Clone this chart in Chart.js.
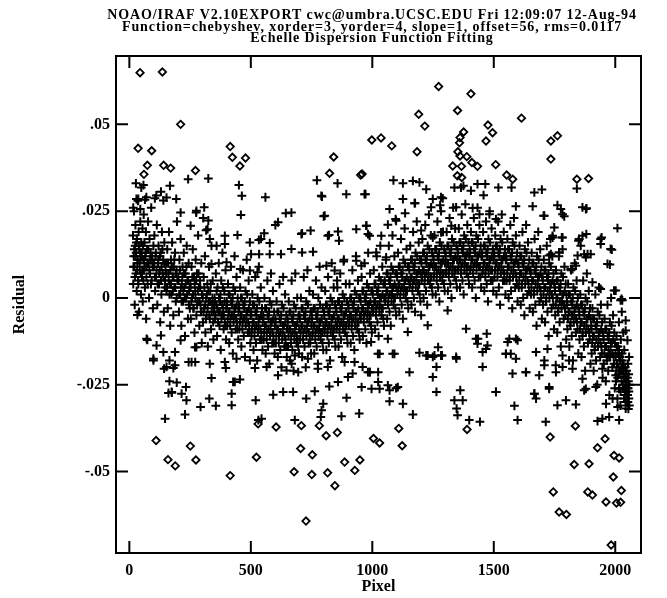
<!DOCTYPE html>
<html>
<head>
<meta charset="utf-8">
<title>Echelle Dispersion Function Fitting</title>
<script src="https://cdn.jsdelivr.net/npm/chart.js@4.4.1/dist/chart.umd.min.js"></script>
<style>
  html, body { margin: 0; padding: 0; background: #fff; }
  canvas { display: block; }
</style>
</head>
<body>
<canvas id="fitChart" width="667" height="598"></canvas>
<script>
let headerLines = [
    'NOAO/IRAF V2.10EXPORT cwc@umbra.UCSC.EDU Fri 12:09:07 12-Aug-94',
    'Function=chebyshev, xorder=3, yorder=4, slope=1, offset=56, rms=0.0117',
    'Echelle Dispersion Function Fitting'
]

let pixelTicks = [0, 500, 1000, 1500, 2000]
let residualTicks = [-0.05, -0.025, 0, 0.025, 0.05]
let residualLabels = ['-.05', '-.025', '0', '.025', '.05']

// fitted lines ('+'), main band
let bandPoints = [
    [15,0.018],[16,0.004],[18,0.012],[19,0.025],[21,0.009],[22,-0.002],[24,0.015],[25,0.021],[27,0.007],[28,0.013],[30,0.002],[31,0.017],[33,0.010],[35,0.028],[36,0.005],[38,0.019],[40,-0.004],[41,0.014],[43,0.008],[45,0.022],[46,0.011],[48,0.001],[49,0.016],
    [51,0.013],[52,0.006],[54,0.020],[55,-0.001],[57,0.011],[59,0.024],[60,0.008],[62,0.016],[64,0.003],[66,0.012],[68,0.019],[69,-0.006],[71,0.009],[73,0.014],[75,0.004],[77,0.022],[79,0.010],[81,0.000],[83,0.017],[85,0.007],[87,0.013],[90,0.026],[92,0.005],[94,0.011],[97,-0.003],[99,0.015],
    [101,0.009],[103,0.018],[106,0.002],[108,0.012],[110,0.006],[113,0.021],[115,-0.002],[118,0.010],[120,0.015],[122,0.004],[125,0.008],[127,-0.007],[129,0.013],[132,0.001],[134,0.019],[137,0.007],[139,0.011],[142,-0.004],[144,0.016],[147,0.005],
    [151,0.010],[153,0.002],[156,0.014],[158,-0.003],[161,0.007],[163,0.019],[166,0.004],[168,-0.008],[171,0.011],[173,0.001],[176,0.016],[178,0.006],[181,-0.005],[183,0.009],[186,0.003],[188,0.013],[191,-0.001],[194,0.008],[196,0.022],[198,0.005],
    [201,0.006],[204,-0.004],[206,0.011],[209,0.001],[211,0.017],[214,-0.008],[216,0.004],[219,0.009],[221,-0.001],[224,0.013],[226,0.003],[229,-0.011],[231,0.007],[234,0.000],[236,0.015],[239,0.005],[241,-0.006],[244,0.010],[246,0.002],[249,-0.003],
    [251,0.004],[253,-0.006],[256,0.009],[258,0.000],[261,0.014],[263,-0.003],[266,0.006],[268,-0.010],[271,0.002],[273,0.011],[276,-0.005],[278,0.007],[281,-0.001],[283,0.018],[286,0.003],[288,-0.008],[291,0.005],[293,-0.002],[296,0.010],[298,-0.013],
    [301,0.001],[303,-0.007],[306,0.006],[308,-0.003],[311,0.012],[313,-0.010],[316,0.000],[318,-0.005],[321,0.004],[323,-0.014],[326,-0.001],[328,0.009],[331,-0.006],[333,0.002],[336,-0.009],[338,0.015],[341,-0.002],[343,0.005],[346,-0.012],[348,-0.004],
    [351,0.000],[353,-0.006],[356,0.007],[358,-0.002],[361,-0.011],[363,0.003],[366,-0.004],[368,0.010],[371,-0.008],[373,-0.001],[376,-0.015],[378,0.005],[381,-0.005],[383,0.013],[386,-0.003],[388,-0.009],[391,0.002],[393,-0.007],[396,0.008],[398,-0.012],
    [401,-0.001],[403,-0.008],[406,0.004],[408,-0.004],[411,-0.013],[413,0.001],[416,-0.006],[418,0.009],[421,-0.010],[423,-0.002],[426,-0.016],[428,0.003],[431,-0.005],[433,0.012],[436,-0.003],[438,-0.009],[441,0.006],[443,-0.007],[446,0.000],[448,-0.012],
    [451,-0.002],[453,-0.009],[456,0.003],[458,-0.005],[461,-0.014],[463,0.000],[466,-0.007],[468,0.008],[471,-0.011],[473,-0.003],[476,-0.017],[478,0.002],[481,-0.006],[483,0.011],[486,-0.004],[488,-0.010],[491,0.005],[493,-0.008],[496,-0.001],[498,-0.013],
    [501,-0.004],[503,-0.011],[506,0.001],[508,-0.007],[511,-0.015],[513,-0.002],[516,-0.009],[518,0.006],[521,-0.013],[523,-0.005],[526,-0.018],[528,0.000],[531,-0.008],[533,0.009],[536,-0.006],[538,-0.012],[541,0.003],[543,-0.010],[546,-0.003],[548,-0.015],
    [551,-0.005],[553,-0.012],[556,0.000],[558,-0.008],[561,-0.016],[563,-0.003],[566,-0.010],[568,0.005],[571,-0.014],[573,-0.006],[576,-0.019],[578,-0.001],[581,-0.009],[583,0.007],[586,-0.007],[588,-0.013],[591,0.002],[593,-0.011],[596,-0.004],[598,-0.016],
    [601,-0.006],[603,-0.013],[606,-0.001],[608,-0.009],[611,-0.017],[613,-0.004],[616,-0.011],[618,0.004],[621,-0.015],[623,-0.007],[626,-0.020],[628,-0.002],[631,-0.010],[633,0.006],[636,-0.008],[638,-0.014],[641,0.001],[643,-0.012],[646,-0.005],[648,-0.017],
    [651,-0.006],[653,-0.014],[656,-0.001],[658,-0.009],[661,-0.018],[663,-0.004],[666,-0.011],[668,0.005],[671,-0.015],[673,-0.007],[676,-0.021],[678,-0.002],[681,-0.010],[683,0.007],[686,-0.008],[688,-0.013],[691,0.000],[693,-0.012],[696,-0.005],[698,-0.016],
    [701,-0.005],[703,-0.012],[706,0.000],[708,-0.008],[711,-0.017],[713,-0.003],[716,-0.010],[718,0.006],[721,-0.014],[723,-0.006],[726,-0.020],[728,-0.001],[731,-0.009],[733,0.008],[736,-0.007],[738,-0.013],[741,0.002],[743,-0.011],[746,-0.004],[748,-0.016],
    [751,-0.004],[753,-0.011],[756,0.001],[758,-0.008],[761,-0.016],[763,-0.003],[766,-0.010],[768,0.005],[771,-0.014],[773,-0.006],[776,-0.019],[778,0.000],[781,-0.009],[783,0.009],[786,-0.007],[788,-0.012],[791,0.003],[793,-0.010],[796,-0.003],[798,-0.015],
    [801,-0.004],[803,-0.010],[806,0.002],[808,-0.007],[811,-0.015],[813,-0.002],[816,-0.009],[818,0.006],[821,-0.013],[823,-0.005],[826,-0.018],[828,0.000],[831,-0.008],[833,0.010],[836,-0.006],[838,-0.011],[841,0.003],[843,-0.009],[846,-0.002],[848,-0.014],
    [851,-0.003],[853,-0.009],[856,0.003],[858,-0.006],[861,-0.014],[863,-0.001],[866,-0.008],[868,0.007],[871,-0.012],[873,-0.004],[876,-0.017],[878,0.001],[881,-0.007],[883,0.011],[886,-0.005],[888,-0.010],[891,0.004],[893,-0.008],[896,-0.001],[898,-0.013],
    [901,-0.002],[903,-0.008],[906,0.004],[908,-0.005],[911,-0.013],[913,0.000],[916,-0.007],[918,0.008],[921,-0.011],[923,-0.003],[926,-0.015],[928,0.002],[931,-0.006],[933,0.012],[936,-0.004],[938,-0.009],[941,0.005],[943,-0.007],[946,0.000],[948,-0.012],
    [951,0.000],[953,-0.006],[956,0.006],[958,-0.003],[961,-0.011],[963,0.002],[966,-0.005],[968,0.010],[971,-0.009],[973,-0.001],[976,-0.013],[978,0.004],[981,-0.004],[983,0.013],[986,-0.002],[988,-0.007],[991,0.007],[993,-0.005],[996,0.002],[998,-0.010],
    [1001,0.002],[1003,-0.004],[1006,0.008],[1008,-0.001],[1011,-0.009],[1013,0.004],[1016,-0.003],[1018,0.012],[1021,-0.007],[1023,0.001],[1026,-0.011],[1028,0.006],[1031,-0.002],[1033,0.015],[1036,0.000],[1038,-0.005],[1041,0.009],[1043,-0.003],[1046,0.004],[1048,-0.008],
    [1051,0.005],[1053,-0.001],[1056,0.011],[1058,0.002],[1061,-0.006],[1063,0.007],[1066,0.000],[1068,0.015],[1071,-0.004],[1073,0.004],[1076,-0.008],[1078,0.009],[1081,0.001],[1083,0.018],[1086,0.003],[1088,-0.002],[1091,0.012],[1093,0.000],[1096,0.007],[1098,-0.005],
    [1101,0.007],[1103,0.001],[1106,0.013],[1108,0.004],[1111,-0.004],[1113,0.009],[1116,0.002],[1118,0.017],[1121,-0.002],[1123,0.006],[1126,-0.006],[1128,0.011],[1131,0.003],[1133,0.020],[1136,0.005],[1138,0.000],[1141,0.014],[1143,0.002],[1146,0.009],[1148,-0.003],
    [1151,0.009],[1153,0.003],[1156,0.015],[1158,0.006],[1161,-0.002],[1163,0.011],[1166,0.004],[1168,0.019],[1171,0.000],[1173,0.008],[1176,-0.004],[1178,0.013],[1181,0.005],[1183,0.022],[1186,0.007],[1188,0.002],[1191,0.016],[1193,0.004],[1196,0.011],[1198,-0.001],
    [1201,0.011],[1203,0.005],[1206,0.017],[1208,0.008],[1211,0.000],[1213,0.013],[1216,0.006],[1218,0.021],[1221,0.002],[1223,0.010],[1226,-0.002],[1228,0.015],[1231,0.007],[1233,0.024],[1236,0.009],[1238,0.004],[1241,0.018],[1243,0.006],[1246,0.013],[1248,0.001],
    [1251,0.012],[1253,0.006],[1256,0.018],[1258,0.009],[1261,0.001],[1263,0.014],[1266,0.007],[1268,0.022],[1271,0.003],[1273,0.011],[1276,-0.001],[1278,0.016],[1281,0.008],[1283,0.025],[1286,0.010],[1288,0.005],[1291,0.019],[1293,0.007],[1296,0.014],[1298,0.002],
    [1301,0.013],[1303,0.007],[1306,0.019],[1308,0.010],[1311,0.002],[1313,0.015],[1316,0.008],[1318,0.023],[1321,0.004],[1323,0.012],[1326,0.000],[1328,0.017],[1331,0.009],[1333,0.026],[1336,0.011],[1338,0.006],[1341,0.020],[1343,0.008],[1346,0.015],[1348,0.003],
    [1351,0.014],[1353,0.008],[1356,0.020],[1358,0.011],[1361,0.003],[1363,0.016],[1366,0.009],[1368,0.024],[1371,0.005],[1373,0.013],[1376,0.001],[1378,0.018],[1381,0.010],[1383,0.027],[1386,0.012],[1388,0.007],[1391,0.021],[1393,0.009],[1396,0.016],[1398,0.004],
    [1401,0.014],[1403,0.008],[1406,0.019],[1408,0.011],[1411,0.003],[1413,0.016],[1416,0.009],[1418,0.023],[1421,0.005],[1423,0.013],[1426,0.000],[1428,0.018],[1431,0.010],[1433,0.026],[1436,0.012],[1438,0.006],[1441,0.021],[1443,0.009],[1446,0.015],[1448,0.003],
    [1451,0.013],[1453,0.007],[1456,0.019],[1458,0.010],[1461,0.002],[1463,0.015],[1466,0.008],[1468,0.022],[1471,0.004],[1473,0.012],[1476,-0.001],[1478,0.017],[1481,0.009],[1483,0.025],[1486,0.011],[1488,0.005],[1491,0.020],[1493,0.008],[1496,0.014],[1498,0.002],
    [1501,0.013],[1503,0.006],[1506,0.018],[1508,0.010],[1511,0.001],[1513,0.015],[1516,0.008],[1518,0.022],[1521,0.003],[1523,0.012],[1526,-0.002],[1528,0.017],[1531,0.009],[1533,0.024],[1536,0.011],[1538,0.005],[1541,0.019],[1543,0.007],[1546,0.014],[1548,0.001],
    [1551,0.012],[1553,0.005],[1556,0.017],[1558,0.009],[1561,0.000],[1563,0.014],[1566,0.006],[1568,0.021],[1571,0.002],[1573,0.011],[1576,-0.003],[1578,0.016],[1581,0.008],[1583,0.023],[1586,0.010],[1588,0.003],[1591,0.018],[1593,0.006],[1596,0.013],[1598,-0.001],
    [1601,0.010],[1603,0.003],[1606,0.015],[1608,0.007],[1611,-0.002],[1613,0.012],[1616,0.004],[1618,0.019],[1621,0.000],[1623,0.009],[1626,-0.005],[1628,0.014],[1631,0.006],[1633,0.021],[1636,0.008],[1638,0.001],[1641,0.016],[1643,0.004],[1646,0.011],[1648,-0.003],
    [1651,0.008],[1653,0.001],[1656,0.013],[1658,0.005],[1661,-0.004],[1663,0.010],[1666,0.002],[1668,0.017],[1671,-0.002],[1673,0.007],[1676,-0.008],[1678,0.012],[1681,0.004],[1683,0.019],[1686,0.006],[1688,-0.001],[1691,0.014],[1693,0.002],[1696,0.009],[1698,-0.006],
    [1701,0.006],[1703,-0.002],[1706,0.011],[1708,0.003],[1711,-0.007],[1713,0.008],[1716,0.000],[1718,0.015],[1721,-0.004],[1723,0.005],[1726,-0.011],[1728,0.010],[1731,0.002],[1733,0.017],[1736,0.004],[1738,-0.003],[1741,0.012],[1743,0.000],[1746,0.007],[1748,-0.009],
    [1751,0.003],[1753,-0.005],[1756,0.008],[1758,0.000],[1761,-0.010],[1763,0.005],[1766,-0.003],[1768,0.012],[1771,-0.007],[1773,0.002],[1776,-0.014],[1778,0.007],[1781,-0.001],[1783,0.014],[1786,0.001],[1788,-0.006],[1791,0.009],[1793,-0.003],[1796,0.004],[1798,-0.012],
    [1801,-0.001],[1803,-0.009],[1806,0.004],[1808,-0.004],[1811,-0.014],[1813,0.001],[1816,-0.007],[1818,0.008],[1821,-0.011],[1823,-0.002],[1826,-0.018],[1828,0.003],[1831,-0.005],[1833,0.010],[1836,-0.003],[1838,-0.010],[1841,0.005],[1843,-0.007],[1846,0.000],[1848,-0.016],
    [1851,-0.004],[1853,-0.012],[1856,0.001],[1858,-0.007],[1861,-0.017],[1863,-0.002],[1866,-0.010],[1868,0.005],[1871,-0.014],[1873,-0.005],[1876,-0.021],[1878,0.000],[1881,-0.008],[1883,0.007],[1886,-0.006],[1888,-0.013],[1891,0.002],[1893,-0.010],[1896,-0.003],[1898,-0.019],
    [1901,-0.008],[1903,-0.016],[1906,-0.003],[1908,-0.011],[1911,-0.021],[1913,-0.006],[1916,-0.014],[1918,0.001],[1921,-0.018],[1923,-0.009],[1926,-0.025],[1928,-0.004],[1931,-0.012],[1933,0.003],[1936,-0.010],[1938,-0.017],[1941,-0.002],[1943,-0.014],[1946,-0.007],[1948,-0.023],
    [1951,-0.011],[1953,-0.019],[1956,-0.006],[1958,-0.014],[1961,-0.024],[1963,-0.009],[1966,-0.017],[1968,-0.002],[1971,-0.021],[1973,-0.012],[1976,-0.028],[1978,-0.007],[1981,-0.015],[1983,0.000],[1986,-0.013],[1988,-0.020],[1991,-0.005],[1993,-0.017],[1996,-0.010],[1998,-0.026],
    [2001,-0.016],[2003,-0.024],[2005,-0.011],[2007,-0.019],[2009,-0.029],[2011,-0.014],[2013,-0.022],[2015,-0.007],[2017,-0.026],[2019,-0.017],[2021,-0.031],[2023,-0.012],[2025,-0.020],[2027,-0.004],[2029,-0.018],[2031,-0.025],[2033,-0.010],[2035,-0.022],[2037,-0.015],[2039,-0.028],[2041,-0.020],[2043,-0.024],[2045,-0.027],[2047,-0.021],[2049,-0.030],
    [2050,-0.023],[2051,-0.028],[2052,-0.019],[2053,-0.026],[2054,-0.032],[2055,-0.022],[2056,-0.029],[2057,-0.017],[2058,-0.025]
]

// fitted lines ('+'), the tight middle of the band
let corePoints = [
    [17,0.009],[20,0.014],[23,0.006],[26,0.012],[29,0.016],[32,0.008],[34,0.011],[37,0.004],[39,0.015],[42,0.010],[44,0.013],[47,0.007],
    [50,0.012],[53,0.008],[56,0.015],[58,0.005],[61,0.011],[63,0.009],[67,0.013],[70,0.006],[74,0.010],[78,0.014],[82,0.008],[86,0.011],[89,0.004],[93,0.012],[96,0.009],
    [102,0.010],[105,0.006],[109,0.013],[112,0.008],[116,0.004],[119,0.011],[123,0.007],[126,0.012],[130,0.005],[133,0.009],[136,0.014],[140,0.006],[143,0.010],[146,0.003],[149,0.008],
    [152,0.007],[155,0.003],[159,0.010],[162,0.005],[165,0.001],[169,0.008],[172,0.004],[175,0.009],[179,0.002],[182,0.006],[185,0.011],[189,0.003],[192,0.007],[195,0.000],[199,0.005],
    [202,0.005],[205,0.001],[208,0.008],[212,0.003],[215,-0.001],[218,0.006],[222,0.002],[225,0.007],[228,0.000],[232,0.004],[235,0.009],[238,0.001],[242,0.005],[245,-0.002],[248,0.003],
    [252,0.003],[255,-0.001],[259,0.006],[262,0.001],[265,-0.003],[269,0.004],[272,0.000],[275,0.005],[279,-0.002],[282,0.002],[285,0.007],[289,-0.001],[292,0.003],[295,-0.004],[299,0.001],
    [302,0.000],[305,-0.004],[309,0.003],[312,-0.002],[315,-0.006],[319,0.001],[322,-0.003],[325,0.002],[329,-0.005],[332,-0.001],[335,0.004],[339,-0.004],[342,0.000],[345,-0.007],[349,-0.002],
    [352,-0.001],[355,-0.005],[359,0.002],[362,-0.003],[365,-0.007],[369,0.000],[372,-0.004],[375,0.001],[379,-0.006],[382,-0.002],[385,0.003],[389,-0.005],[392,-0.001],[395,-0.008],[399,-0.003],
    [402,-0.002],[405,-0.006],[409,0.001],[412,-0.004],[415,-0.008],[419,-0.001],[422,-0.005],[425,0.000],[429,-0.007],[432,-0.003],[435,0.002],[439,-0.006],[442,-0.002],[445,-0.009],[449,-0.004],
    [452,-0.003],[455,-0.007],[459,0.000],[462,-0.005],[465,-0.009],[469,-0.002],[472,-0.006],[475,-0.001],[479,-0.008],[482,-0.004],[485,0.001],[489,-0.007],[492,-0.003],[495,-0.010],[499,-0.005],
    [502,-0.005],[505,-0.009],[509,-0.002],[512,-0.007],[515,-0.011],[519,-0.004],[522,-0.008],[525,-0.003],[529,-0.010],[532,-0.006],[535,-0.001],[539,-0.009],[542,-0.005],[545,-0.012],[549,-0.007],
    [552,-0.006],[555,-0.010],[559,-0.003],[562,-0.008],[565,-0.012],[569,-0.005],[572,-0.009],[575,-0.004],[579,-0.011],[582,-0.007],[585,-0.002],[589,-0.010],[592,-0.006],[595,-0.013],[599,-0.008],
    [602,-0.007],[605,-0.011],[609,-0.004],[612,-0.009],[615,-0.013],[619,-0.006],[622,-0.010],[625,-0.005],[629,-0.012],[632,-0.008],[635,-0.003],[639,-0.011],[642,-0.007],[645,-0.014],[649,-0.009],
    [652,-0.007],[655,-0.011],[659,-0.004],[662,-0.009],[665,-0.013],[669,-0.006],[672,-0.010],[675,-0.005],[679,-0.012],[682,-0.008],[685,-0.003],[689,-0.011],[692,-0.007],[695,-0.014],[699,-0.009],
    [702,-0.006],[705,-0.010],[709,-0.003],[712,-0.008],[715,-0.012],[719,-0.005],[722,-0.009],[725,-0.004],[729,-0.011],[732,-0.007],[735,-0.002],[739,-0.010],[742,-0.006],[745,-0.013],[749,-0.008],
    [752,-0.006],[755,-0.010],[759,-0.003],[762,-0.008],[765,-0.012],[769,-0.005],[772,-0.009],[775,-0.004],[779,-0.011],[782,-0.007],[785,-0.002],[789,-0.010],[792,-0.006],[795,-0.013],[799,-0.008],
    [802,-0.005],[805,-0.009],[809,-0.002],[812,-0.007],[815,-0.011],[819,-0.004],[822,-0.008],[825,-0.003],[829,-0.010],[832,-0.006],[835,-0.001],[839,-0.009],[842,-0.005],[845,-0.012],[849,-0.007],
    [852,-0.004],[855,-0.008],[859,-0.001],[862,-0.006],[865,-0.010],[869,-0.003],[872,-0.007],[875,-0.002],[879,-0.009],[882,-0.005],[885,0.000],[889,-0.008],[892,-0.004],[895,-0.011],[899,-0.006],
    [902,-0.003],[905,-0.007],[909,0.000],[912,-0.005],[915,-0.009],[919,-0.002],[922,-0.006],[925,-0.001],[929,-0.008],[932,-0.004],[935,0.001],[939,-0.007],[942,-0.003],[945,-0.010],[949,-0.005],
    [952,-0.001],[955,-0.005],[959,0.002],[962,-0.003],[965,-0.007],[969,0.000],[972,-0.004],[975,0.001],[979,-0.006],[982,-0.002],[985,0.003],[989,-0.005],[992,-0.001],[995,-0.008],[999,-0.003],
    [1002,0.001],[1005,-0.003],[1009,0.004],[1012,-0.001],[1015,-0.005],[1019,0.002],[1022,-0.002],[1025,0.003],[1029,-0.004],[1032,0.000],[1035,0.005],[1039,-0.003],[1042,0.001],[1045,-0.006],[1049,0.000],
    [1052,0.004],[1055,0.000],[1059,0.007],[1062,0.002],[1065,-0.002],[1069,0.005],[1072,0.001],[1075,0.006],[1079,-0.001],[1082,0.003],[1085,0.008],[1089,0.000],[1092,0.004],[1095,-0.003],[1099,0.003],
    [1102,0.006],[1105,0.002],[1109,0.009],[1112,0.004],[1115,0.000],[1119,0.007],[1122,0.003],[1125,0.008],[1129,0.001],[1132,0.005],[1135,0.010],[1139,0.002],[1142,0.006],[1145,-0.001],[1149,0.005],
    [1152,0.008],[1155,0.004],[1159,0.011],[1162,0.006],[1165,0.002],[1169,0.009],[1172,0.005],[1175,0.010],[1179,0.003],[1182,0.007],[1185,0.012],[1189,0.004],[1192,0.008],[1195,0.001],[1199,0.007],
    [1202,0.010],[1205,0.006],[1209,0.013],[1212,0.008],[1215,0.004],[1219,0.011],[1222,0.007],[1225,0.012],[1229,0.005],[1232,0.009],[1235,0.014],[1239,0.006],[1242,0.010],[1245,0.003],[1249,0.009],
    [1252,0.011],[1255,0.007],[1259,0.014],[1262,0.009],[1265,0.005],[1269,0.012],[1272,0.008],[1275,0.013],[1279,0.006],[1282,0.010],[1285,0.015],[1289,0.007],[1292,0.011],[1295,0.004],[1299,0.010],
    [1302,0.012],[1305,0.008],[1309,0.015],[1312,0.010],[1315,0.006],[1319,0.013],[1322,0.009],[1325,0.014],[1329,0.007],[1332,0.011],[1335,0.016],[1339,0.008],[1342,0.012],[1345,0.005],[1349,0.011],
    [1352,0.013],[1355,0.009],[1359,0.016],[1362,0.011],[1365,0.007],[1369,0.014],[1372,0.010],[1375,0.015],[1379,0.008],[1382,0.012],[1385,0.017],[1389,0.009],[1392,0.013],[1395,0.006],[1399,0.012],
    [1402,0.013],[1405,0.009],[1409,0.016],[1412,0.011],[1415,0.007],[1419,0.014],[1422,0.010],[1425,0.015],[1429,0.008],[1432,0.012],[1435,0.017],[1439,0.009],[1442,0.013],[1445,0.006],[1449,0.012],
    [1452,0.012],[1455,0.008],[1459,0.015],[1462,0.010],[1465,0.006],[1469,0.013],[1472,0.009],[1475,0.014],[1479,0.007],[1482,0.011],[1485,0.016],[1489,0.008],[1492,0.012],[1495,0.005],[1499,0.011],
    [1502,0.012],[1505,0.008],[1509,0.015],[1512,0.010],[1515,0.006],[1519,0.013],[1522,0.009],[1525,0.014],[1529,0.007],[1532,0.011],[1535,0.016],[1539,0.008],[1542,0.012],[1545,0.005],[1549,0.011],
    [1552,0.011],[1555,0.007],[1559,0.014],[1562,0.009],[1565,0.005],[1569,0.012],[1572,0.008],[1575,0.013],[1579,0.006],[1582,0.010],[1585,0.015],[1589,0.007],[1592,0.011],[1595,0.004],[1599,0.010],
    [1602,0.009],[1605,0.005],[1609,0.012],[1612,0.007],[1615,0.003],[1619,0.010],[1622,0.006],[1625,0.011],[1629,0.004],[1632,0.008],[1635,0.013],[1639,0.005],[1642,0.009],[1645,0.002],[1649,0.008],
    [1652,0.007],[1655,0.003],[1659,0.010],[1662,0.005],[1665,0.001],[1669,0.008],[1672,0.004],[1675,0.009],[1679,0.002],[1682,0.006],[1685,0.011],[1689,0.003],[1692,0.007],[1695,0.000],[1699,0.006],
    [1702,0.005],[1705,0.001],[1709,0.008],[1712,0.003],[1715,-0.001],[1719,0.006],[1722,0.002],[1725,0.007],[1729,0.000],[1732,0.004],[1735,0.009],[1739,0.001],[1742,0.005],[1745,-0.002],[1749,0.004],
    [1752,0.002],[1755,-0.002],[1759,0.005],[1762,0.000],[1765,-0.004],[1769,0.003],[1772,-0.001],[1775,0.004],[1779,-0.003],[1782,0.001],[1785,0.006],[1789,-0.002],[1792,0.002],[1795,-0.005],[1799,0.001],
    [1802,-0.002],[1805,-0.006],[1809,0.001],[1812,-0.004],[1815,-0.008],[1819,-0.001],[1822,-0.005],[1825,0.000],[1829,-0.007],[1832,-0.003],[1835,0.002],[1839,-0.006],[1842,-0.002],[1845,-0.009],[1849,-0.003],
    [1852,-0.005],[1855,-0.009],[1859,-0.002],[1862,-0.007],[1865,-0.011],[1869,-0.004],[1872,-0.008],[1875,-0.003],[1879,-0.010],[1882,-0.006],[1885,-0.001],[1889,-0.009],[1892,-0.005],[1895,-0.012],[1899,-0.006],
    [1902,-0.009],[1905,-0.013],[1909,-0.006],[1912,-0.011],[1915,-0.015],[1919,-0.008],[1922,-0.012],[1925,-0.007],[1929,-0.014],[1932,-0.010],[1935,-0.005],[1939,-0.013],[1942,-0.009],[1945,-0.016],[1949,-0.010],
    [1952,-0.012],[1955,-0.016],[1959,-0.009],[1962,-0.014],[1965,-0.018],[1969,-0.011],[1972,-0.015],[1975,-0.010],[1979,-0.017],[1982,-0.013],[1985,-0.008],[1989,-0.016],[1992,-0.012],[1995,-0.019],[1999,-0.013],
    [2002,-0.017],[2004,-0.021],[2006,-0.014],[2008,-0.019],[2010,-0.023],[2012,-0.016],[2014,-0.020],[2016,-0.015],[2018,-0.022],[2020,-0.018],[2022,-0.027],[2024,-0.021],[2026,-0.024],[2028,-0.016],[2030,-0.021],[2032,-0.026],[2034,-0.019],[2036,-0.029],[2038,-0.023],[2040,-0.026],[2042,-0.030],[2044,-0.022],[2046,-0.025],[2048,-0.028],
    [2050,-0.026],[2052,-0.030],[2054,-0.024],[2056,-0.027],[2058,-0.031]
]

// fitted lines ('+') scattered above the band
let upperPoints = [
    [27,0.033],[58,0.0325],[49,0.0318],[167,0.0323],[242,0.0342],[325,0.0344],[451,0.0325],[463,0.0294],[459,0.0239],[560,0.029],[130,0.0306],[153,0.0289],[29,0.0285],[64,0.0283],[105,0.0287],[193,0.0285],[211,0.0246],[276,0.0251],[308,0.0261],[304,0.023],[322,0.0198],[252,0.0208],[445,0.0181],[393,0.0179],[331,0.017],[612,0.0218],[601,0.021],[644,0.0244],[667,0.0246],[555,0.0186],[542,0.017],[711,0.0186],[746,0.0194],[800,0.0235],[772,0.0339],[857,0.033],[793,0.0292],[893,0.0299],[972,0.0299],[822,0.0181],[859,0.0191],[863,0.0165],[934,0.0198],[975,0.0208],[982,0.0184],[496,0.016],[533,0.0167],[578,0.0158],[501,0.0126],[534,0.0126],[578,0.0126],[624,0.0126],[667,0.0141],[711,0.0131],[756,0.0133],[457,0.0083],[496,0.0079],[527,0.0074],[338,0.0098],[400,0.0103],[359,0.015],[393,0.0155],[882,0.0105],[934,0.0107],[955,0.0093],[811,0.0093],[845,0.0079],[855,0.005],
    [1087,0.0339],[1126,0.033],[1167,0.0337],[1194,0.0333],[1222,0.0313],[1126,0.0285],[1176,0.0273],[1135,0.0244],[1071,0.0256],[1096,0.0227],[1064,0.0211],[968,0.0299],[976,0.0208],[989,0.0179],[1037,0.0179],[1016,0.0131],[1057,0.0117],[1249,0.0285],[1290,0.0287],[1242,0.0261],[1279,0.0267],[1338,0.0318],[1375,0.0323],[1406,0.0309],[1433,0.0328],[1458,0.0296],[1465,0.0328],[1519,0.0318],[1573,0.0318],[1667,0.0304],[1698,0.0312],[1842,0.0315],[1345,0.0261],[1413,0.0259],[1482,0.0241],[1591,0.0264],[1660,0.0264],[1705,0.0237],[1762,0.0267],[1776,0.0256],[1790,0.0235],[1865,0.0261],[1882,0.0258],[2009,0.0201],[1849,0.0165],[1865,0.0179],[1858,0.015],[1899,0.0126],[1879,0.0117],[1944,0.0174],[1940,0.0155],[1986,0.0139],[1968,0.0098],[1978,0.0096],[1742,0.0179],[1780,0.0174],[1749,0.0203],[1735,0.0126],[1769,0.0131],[1817,0.0083],[1838,0.0093],[1872,0.0126],[1906,0.0045],[1940,0.0026],[2002,0.0021],[2026,-0.0003],
    [37,0.0285],[70,0.029],[111,0.0295],[140,0.0281],[16,0.026],[45,0.0256],[275,0.0246],[325,0.0223],[316,0.0195],[790,0.0294],[804,0.0237],[708,0.0184],[817,0.0179],[1098,0.0222],[1174,0.0273],[1283,0.029],[1365,0.0318],[1201,0.0194],[1249,0.0174],[1283,0.0189],[1325,0.0208],[1441,0.0241],[1509,0.0227],[1708,0.0237],[1783,0.0241],[1879,0.0256],[1742,0.0174],[1783,0.0174],[1851,0.017],[1881,0.0184],[1940,0.017],[1981,0.0141],[1886,0.0126],[1845,0.0122],[1824,0.0083],[1995,0.0021],[2029,-0.0007],[1769,0.0131],[1728,0.0122]
]

// fitted lines ('+') scattered below the band
let lowerPoints = [
    [33,-0.0049],[74,-0.0121],[99,-0.018],[147,-0.0348],[130,-0.0108],[140,-0.0156],[165,-0.018],[188,-0.0156],[143,-0.0204],[181,-0.0202],[165,-0.024],[195,-0.0244],[161,-0.0274],[175,-0.0273],[211,-0.0122],[276,-0.0142],[215,-0.0276],[233,-0.0257],[235,-0.0295],[229,-0.0336],[293,-0.0314],[329,-0.029],[356,-0.0311],[244,-0.0185],[271,-0.0185],[331,-0.019],[338,-0.0231],[397,-0.0202],[427,-0.0242],[455,-0.0235],[421,-0.0276],[421,-0.0309],[520,-0.0295],[544,-0.0348],[531,-0.0352],[592,-0.0279],[633,-0.0271],[674,-0.0271],[681,-0.0352],[728,-0.029],[763,-0.0269],[798,-0.0305],[791,-0.0324],[788,-0.0343],[873,-0.0341],[946,-0.0333],[894,-0.0288],[956,-0.0257],[990,-0.0214],[612,-0.0223],[647,-0.0209],[695,-0.0214],[668,-0.019],[565,-0.0199],[517,-0.0202],[496,-0.018],[441,-0.0175],[393,-0.0185],[823,-0.0255],[859,-0.0242],[900,-0.0228],[960,-0.0199],[919,-0.0218],
    [1030,-0.0161],[1084,-0.0161],[989,-0.0214],[1024,-0.0214],[1024,-0.0242],[997,-0.0262],[1030,-0.0262],[1071,-0.0266],[1098,-0.026],[1071,-0.0298],[1126,-0.0305],[1167,-0.0336],[1153,-0.0214],[1194,-0.0158],[1222,-0.0166],[1249,-0.017],[1287,-0.0166],[1271,-0.0142],[1346,-0.0175],[1264,-0.0199],[1249,-0.0228],[1264,-0.0271],[1338,-0.0295],[1372,-0.0295],[1347,-0.0319],[1351,-0.0338],[1399,-0.0352],[1443,-0.0357],[1362,-0.0266],[1509,-0.0271],[1454,-0.0199],[1427,-0.0118],[1471,-0.0103],[1433,-0.0132],[1474,-0.0137],[1454,-0.0156],[1557,-0.0127],[1598,-0.0122],[1550,-0.0161],[1570,-0.0161],[1591,-0.0175],[1577,-0.0218],[1633,-0.0214],[1674,-0.0156],[1687,-0.0223],[1667,-0.0276],[1674,-0.029],[1585,-0.0311],[1598,-0.0352],[1714,-0.0357],[1708,-0.018],[1756,-0.0214],[1783,-0.0199],[1728,-0.0262],[1762,-0.0309],[1797,-0.0295],[1838,-0.0307],[1872,-0.0266],[1920,-0.0257],[1927,-0.0355],[1947,-0.0348],[1975,-0.0343],[2016,-0.0352],[2043,-0.0319],[2043,-0.0271],[2002,-0.0223],[2036,-0.0228],[2016,-0.0262],[1989,-0.029],[1962,-0.0305],[2010,-0.0314],[2022,-0.0007],[2043,-0.0065],[2043,-0.0094],[2050,-0.0122],
    [71,-0.0118],[112,-0.0137],[99,-0.0175],[153,-0.0199],[188,-0.0194],[256,-0.0185],[270,-0.0142],[174,-0.0271],[434,-0.0242],[681,-0.0166],[735,-0.0175],[776,-0.0204],[817,-0.0199],[886,-0.0185],[927,-0.0185],[982,-0.0214],[1064,-0.0252],[1105,-0.0257],[1228,-0.0166],[1256,-0.0166],[1283,-0.0166],[1345,-0.017],[1023,-0.0161],[1091,-0.0161],[1201,-0.005],[1310,-0.0036],[1228,-0.0079],[1146,-0.0098],[1064,-0.0118],[995,-0.0127],[1386,-0.0089],[1435,-0.0118],[1564,-0.0118],[1591,-0.0118],[1468,-0.0147],[1550,-0.0161],[1632,-0.0214],[1728,-0.0257],[1509,-0.0271],[1667,-0.0276],[1708,-0.0194],[1755,-0.0194],[1810,-0.018],[1824,-0.0204],[1865,-0.0233],[1879,-0.0262],[1947,-0.0204],[1975,-0.0166],[2016,-0.0166],[2029,-0.0204],[2043,-0.0242],[1783,-0.0166],[1721,-0.0147]
]

// rejected lines (diamonds)
let rejectedPoints = [
    [44,0.0649],[136,0.0651],[211,0.050],[36,0.0431],[92,0.0424],[74,0.0382],[60,0.0356],[141,0.0382],[170,0.0374],[272,0.0367],[415,0.0436],[424,0.0405],[478,0.0403],[455,0.038],[998,0.0455],[841,0.0406],[824,0.0359],[952,0.0354],[958,0.0357],
    [1273,0.0609],[1406,0.0588],[1191,0.0529],[1216,0.0495],[1351,0.054],[1614,0.0518],[1036,0.0461],[1080,0.0438],[1184,0.0421],[1376,0.0478],[1361,0.0462],[1359,0.0447],[1476,0.0498],[1495,0.0476],[1468,0.0452],[1352,0.0421],[1361,0.0409],[1389,0.0407],[1410,0.039],[1433,0.0379],[1331,0.038],[1367,0.0379],[1350,0.0352],[1368,0.0347],[1508,0.0384],[1553,0.0354],[1578,0.0342],[1735,0.0452],[1762,0.0467],[1735,0.04],[1842,0.0342],[1890,0.0344],
    [110,-0.0411],[159,-0.0466],[189,-0.0484],[251,-0.0427],[274,-0.0467],[415,-0.0512],[530,-0.0363],[523,-0.0459],[604,-0.0372],[708,-0.0368],[705,-0.0434],[678,-0.0501],[753,-0.0452],[751,-0.0509],[782,-0.0368],[810,-0.0397],[856,-0.0388],[816,-0.0504],[846,-0.0541],[886,-0.0473],[928,-0.0497],[949,-0.0467],[727,-0.0643],[1005,-0.0405],[1030,-0.0418],[1109,-0.0376],[1123,-0.0426],[1390,-0.0379],[1732,-0.0401],[1836,-0.0369],[1745,-0.0559],[1769,-0.0617],[1799,-0.0624],[1831,-0.048],[1892,-0.0478],[1887,-0.0559],[1906,-0.0568],[1927,-0.0432],[1958,-0.0406],[1995,-0.0454],[2016,-0.0461],[1992,-0.0516],[2025,-0.0555],[1962,-0.0588],[2005,-0.0591],[2022,-0.0589],[1983,-0.0712]
]

let serif = '"Liberation Serif", "Times New Roman", serif'

function toXY(list) {
    return list.map(p => ({ x: p[0], y: p[1] }))
}

// three-line IRAF header above the plot
let headerPlugin = {
    id: 'header',
    afterDraw(chart) {
        let ctx = chart.ctx
        ctx.save()
        ctx.fillStyle = '#000'
        ctx.font = 'bold 14px ' + serif
        ctx.letterSpacing = '0.9px'
        ctx.textAlign = 'center'
        ctx.textBaseline = 'alphabetic'
        headerLines.forEach((line, i) => {
            ctx.fillText(line, 372, 19 + i * 11.5)
        })
        ctx.restore()
    }
}

// box around the plot with inward ticks on all four sides
let framePlugin = {
    id: 'frame',
    afterDatasetsDraw(chart) {
        let ctx = chart.ctx
        let area = chart.chartArea
        let xs = chart.scales.x
        let ys = chart.scales.y
        let len = 12
        ctx.save()
        ctx.strokeStyle = '#000'
        ctx.lineWidth = 2
        ctx.strokeRect(area.left, area.top, area.right - area.left, area.bottom - area.top)
        ctx.beginPath()
        pixelTicks.forEach(v => {
            let px = xs.getPixelForValue(v)
            ctx.moveTo(px, area.bottom)
            ctx.lineTo(px, area.bottom - len)
            ctx.moveTo(px, area.top)
            ctx.lineTo(px, area.top + len)
        })
        residualTicks.forEach(v => {
            let py = ys.getPixelForValue(v)
            ctx.moveTo(area.left, py)
            ctx.lineTo(area.left + len, py)
            ctx.moveTo(area.right, py)
            ctx.lineTo(area.right - len, py)
        })
        ctx.stroke()
        ctx.restore()
    }
}

let ctx = document.getElementById('fitChart').getContext('2d')

let fitChart = new Chart(ctx, {
    type: 'scatter',
    data: {
        datasets: [
            {
                label: 'fit',
                data: toXY(bandPoints.concat(corePoints, upperPoints, lowerPoints)),
                pointStyle: 'cross',
                pointRadius: 4.4,
                borderColor: '#000',
                borderWidth: 2
            },
            {
                label: 'rejected',
                data: toXY(rejectedPoints),
                pointStyle: 'rectRot',
                pointRadius: 3.7,
                borderColor: '#000',
                backgroundColor: 'rgba(0,0,0,0)',
                borderWidth: 1.8
            }
        ]
    },
    options: {
        responsive: false,
        animation: false,
        devicePixelRatio: 1,
        layout: { padding: { top: 56, right: 26, left: 0, bottom: 0 } },
        plugins: {
            legend: { display: false },
            tooltip: { enabled: false }
        },
        scales: {
            x: {
                type: 'linear',
                min: -55,
                max: 2106,
                afterBuildTicks: scale => { scale.ticks = pixelTicks.map(v => ({ value: v })) },
                afterFit: scale => { scale.height = 45 },
                grid: { display: false, drawTicks: false },
                border: { display: false },
                ticks: {
                    color: '#000',
                    padding: 8,
                    maxRotation: 0,
                    font: { family: serif, size: 16, weight: 'bold' },
                    callback: value => String(value)
                },
                title: {
                    display: true,
                    text: 'Pixel',
                    color: '#000',
                    padding: { top: 0, bottom: 2 },
                    font: { family: serif, size: 16, weight: 'bold' }
                }
            },
            y: {
                type: 'linear',
                min: -0.0735,
                max: 0.0697,
                afterBuildTicks: scale => { scale.ticks = residualTicks.map(v => ({ value: v })) },
                afterFit: scale => { scale.width = 116 },
                grid: { display: false, drawTicks: false },
                border: { display: false },
                ticks: {
                    color: '#000',
                    padding: 6,
                    font: { family: serif, size: 16, weight: 'bold' },
                    callback: (value, index) => residualLabels[index]
                },
                title: {
                    display: true,
                    text: 'Residual',
                    color: '#000',
                    padding: { top: 10, bottom: 0 },
                    font: { family: serif, size: 16, weight: 'bold' }
                }
            }
        }
    },
    plugins: [headerPlugin, framePlugin]
})
</script>
</body>
</html>
